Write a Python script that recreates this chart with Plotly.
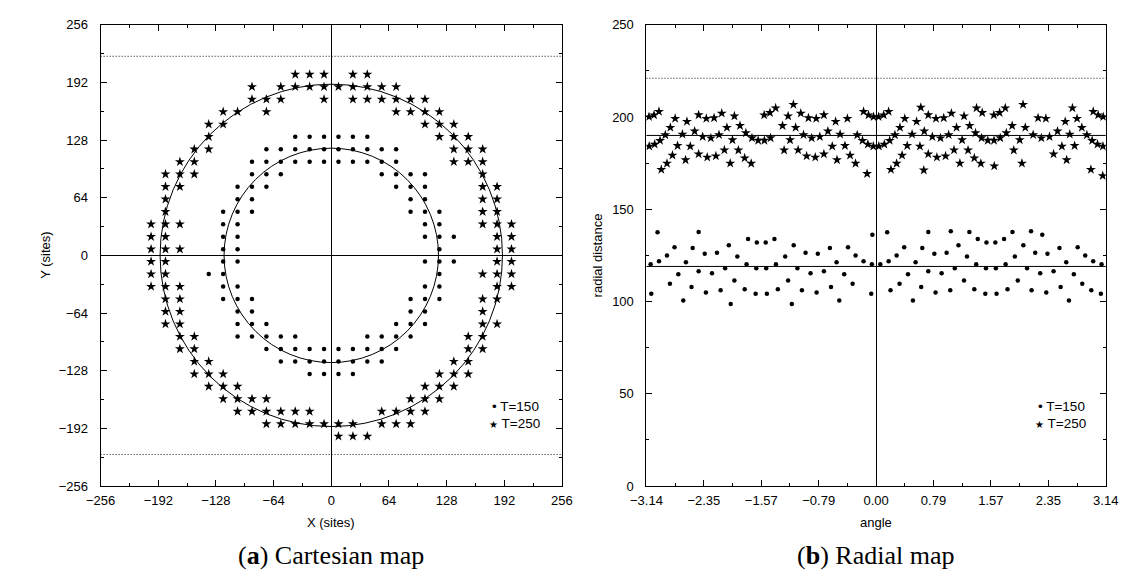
import math
import plotly.graph_objects as go

# ---------------- data (lattice sites) ----------------
# T=150 cluster: row y-coordinate and the x-coordinates of the sites in that row
t150_row_y = [131.7, 117.8, 103.9, 90.1, 76.2, 62.4, 48.5, 34.6, 20.8, 6.9,
              -6.9, -20.8, -34.6, -48.5, -62.4, -76.2, -90.1, -103.9, -117.8, -131.7]
t150_row_x = [
    [-40, -24, -8, 8, 24, 40],
    [-72, -56, -40, -24, -8, 8, 24, 40, 56, 72],
    [-88, -72, -56, -40, -24, -8, 8, 24, 40, 56, 72],
    [-88, -72, -56, 56, 72, 88, 104],
    [-104, -88, -72, 72, 88, 104],
    [-104, -88, 88, 104],
    [-120, -104, -88, 88, 104, 120],
    [-120, -104, 104, 120],
    [-120, -104, 104, 120, 136],
    [-120, -104, 120],
    [-120, -104, 104, 120, 136],
    [-136, -120, 120],
    [-120, -104, 104, 120],
    [-120, -104, -88, 88, 104, 120],
    [-104, -88, 88, 104],
    [-104, -88, -72, 72, 88, 104],
    [-104, -88, -72, -56, -40, 40, 56, 72, 88],
    [-72, -56, -40, -24, -8, 8, 24, 40, 56, 72],
    [-56, -40, -24, -8, 8, 24, 40, 56],
    [-24, -8, 8, 24],
]

# T=250 cluster
t250_row_y = [200.9, 187.1, 173.2, 159.4, 145.5, 131.7, 117.8, 103.9, 90.1, 76.2,
              62.4, 48.5, 34.6, 20.8, 6.9, -6.9, -20.8, -34.6, -48.5, -62.4,
              -76.2, -90.1, -103.9, -117.8, -131.7, -145.5, -159.4, -173.2, -187.1, -200.9]
t250_row_x = [
    [-40, -24, -8, 24, 40],
    [-88, -56, -40, -24, -8, 8, 24, 40, 56, 72],
    [-88, -72, -56, -8, 24, 40, 56, 72, 88, 104],
    [-120, -104, -72, 72, 88, 104, 120],
    [-136, -120, 104, 120, 136],
    [-136, 120, 136, 152],
    [-152, -136, 136, 152, 168],
    [-168, -152, 136, 152, 168],
    [-184, -168, -152, 168],
    [-184, -168, 168, 184],
    [-184, 168, 184],
    [-184, 168, 184],
    [-200, -184, -168, 168, 184, 200],
    [-200, -184, 184, 200],
    [-200, -184, -168, 184, 200],
    [-200, -184, 184, 200],
    [-200, -184, 168, 184, 200],
    [-200, -184, -168, 184, 200],
    [-184, -168, 168, 184],
    [-184, -168, 168],
    [-184, -168, 168, 184],
    [-168, -152, 152, 168],
    [-168, -152, 152, 168],
    [-152, -136, 136, 152],
    [-152, -136, -120, 120, 136, 152],
    [-136, -120, -104, 104, 120, 136],
    [-120, -104, -88, -72, 88, 104, 120],
    [-104, -88, -72, -56, -40, -24, 56, 72, 88, 104],
    [-72, -56, -40, -24, -8, 8, 24, 56, 72, 88],
    [8, 24, 40],
]

# mean radii of the two clusters and the dotted boundary
R150 = 119
R250 = 190
BOUND = 221

xy_ticks = [-256, -192, -128, -64, 0, 64, 128, 192, 256]
ang_ticks = [-3.14, -2.35, -1.57, -0.79, 0.00, 0.79, 1.57, 2.35, 3.14]
rad_ticks = [0, 50, 100, 150, 200, 250]


def flatten(rows_y, rows_x):
    xs, ys = [], []
    for yv, row in zip(rows_y, rows_x):
        for xv in row:
            xs.append(xv)
            ys.append(yv)
    return xs, ys


x150, y150 = flatten(t150_row_y, t150_row_x)
x250, y250 = flatten(t250_row_y, t250_row_x)

a150 = [math.atan2(y, x) for x, y in zip(x150, y150)]
r150 = [math.hypot(x, y) for x, y in zip(x150, y150)]
a250 = [math.atan2(y, x) for x, y in zip(x250, y250)]
r250 = [math.hypot(x, y) for x, y in zip(x250, y250)]


def minus(s):
    return s.replace("-", "\u2212")


W, H = 1139, 585
TICKFONT = dict(family="Liberation Sans, Arial, sans-serif", size=13, color="black")

fig = go.Figure()

dot = dict(symbol="circle", size=4.5, color="black")
star = dict(symbol="star", size=7.5, color="black", line=dict(width=0))

fig.add_trace(go.Scatter(x=x150, y=y150, mode="markers", marker=dot, name="T=150",
                         xaxis="x", yaxis="y", showlegend=False))
fig.add_trace(go.Scatter(x=x250, y=y250, mode="markers", marker=star, name="T=250",
                         xaxis="x", yaxis="y", showlegend=False))
fig.add_trace(go.Scatter(x=a150, y=r150, mode="markers", marker=dot, name="T=150",
                         xaxis="x2", yaxis="y2", showlegend=False))
fig.add_trace(go.Scatter(x=a250, y=r250, mode="markers", marker=star, name="T=250",
                         xaxis="x2", yaxis="y2", showlegend=False))

# pixel geometry of the two plot frames
L1, R1 = 78.6, 552.0
L2, R2 = 638.7, 1110.0
TOP, BOT = 10.0, 483.4
px = lambda v: v / W
py = lambda v: 1 - v / H

common_axis = dict(showline=True, linecolor="black", linewidth=1, mirror="ticks",
                   ticks="inside", ticklen=6, tickcolor="black", tickwidth=1,
                   showgrid=False, tickfont=TICKFONT)

fig.update_layout(
    width=W, height=H,
    margin=dict(l=0, r=0, t=0, b=0),
    paper_bgcolor="white", plot_bgcolor="white",
    showlegend=False,
    xaxis=dict(domain=[px(L1), px(R1)], anchor="y", range=[-256, 256],
               tickvals=xy_ticks, ticktext=[minus(str(v)) for v in xy_ticks],
               minor=dict(ticks="inside", ticklen=3, dtick=32, tick0=0, tickcolor="black",
                          showgrid=False),
               zeroline=True, zerolinecolor="black", zerolinewidth=1,
               ticklabelstandoff=2, **common_axis),
    yaxis=dict(domain=[py(BOT), py(TOP)], anchor="x", range=[-256, 256],
               tickvals=xy_ticks, ticktext=[minus(str(v)) for v in xy_ticks],
               minor=dict(ticks="inside", ticklen=3, dtick=32, tick0=0, tickcolor="black",
                          showgrid=False),
               zeroline=True, zerolinecolor="black", zerolinewidth=1,
               ticklabelstandoff=9, **common_axis),
    xaxis2=dict(domain=[px(L2), px(R2)], anchor="y2", range=[-math.pi, math.pi],
                tickvals=[k * math.pi / 4 for k in range(-4, 5)],
                ticktext=[minus(f"{v:.2f}") for v in ang_ticks],
                minor=dict(ticks="inside", ticklen=3, dtick=math.pi / 8, tick0=0,
                           tickcolor="black", showgrid=False),
                zeroline=True, zerolinecolor="black", zerolinewidth=1,
                ticklabelstandoff=2, **common_axis),
    yaxis2=dict(domain=[py(BOT), py(TOP)], anchor="x2", range=[0, 250],
                tickvals=rad_ticks, ticktext=[str(v) for v in rad_ticks],
                minor=dict(ticks="inside", ticklen=3, dtick=25, tick0=0,
                           tickcolor="black", showgrid=False),
                zeroline=False, ticklabelstandoff=9, **common_axis),
)

line_k = dict(color="black", width=1)
dotted = dict(color="#111111", width=1, dash="1px,2px")
shapes = [
    dict(type="circle", xref="x", yref="y", x0=-R150, y0=-R150, x1=R150, y1=R150, line=line_k),
    dict(type="circle", xref="x", yref="y", x0=-R250, y0=-R250, x1=R250, y1=R250, line=line_k),
    dict(type="line", xref="x domain", yref="y", x0=0, x1=1, y0=BOUND, y1=BOUND, line=dotted),
    dict(type="line", xref="x domain", yref="y", x0=0, x1=1, y0=-BOUND, y1=-BOUND, line=dotted),
    dict(type="line", xref="x2 domain", yref="y2", x0=0, x1=1, y0=BOUND, y1=BOUND, line=dotted),
    dict(type="line", xref="x2 domain", yref="y2", x0=0, x1=1, y0=R250, y1=R250, line=line_k),
    dict(type="line", xref="x2 domain", yref="y2", x0=0, x1=1, y0=R150, y1=R150, line=line_k),
]
fig.update_layout(shapes=shapes)

LABFONT = dict(family="Liberation Sans, Arial, sans-serif", size=13, color="black")
LEGFONT = dict(family="Liberation Sans, Arial, sans-serif", size=13.5, color="black")
CAPFONT = dict(family="Liberation Serif, Times New Roman, serif", size=26, color="black")


def text_at(text, x, y, font, xanchor="center", **kw):
    return dict(text=text, x=px(x), y=py(y), xref="paper", yref="paper",
                xanchor=xanchor, yanchor="middle", showarrow=False, font=font, **kw)


ann = [
    text_at("X (sites)", (L1 + R1) / 2, 521, LABFONT),
    text_at("Y (sites)", 22, (TOP + BOT) / 2, LABFONT, textangle=-90),
    text_at("angle", (L2 + R2) / 2, 521, LABFONT),
    text_at("radial distance", 588, (TOP + BOT) / 2, LABFONT, textangle=-90),
    text_at("(<b>a</b>) Cartesian map", 315, 555, CAPFONT),
    text_at("(<b>b</b>) Radial map", 874, 555, CAPFONT),
]
# legends (one per panel)
for dx in (0, 560):
    ann.append(text_at("\u2022 T=150", 478.5 + dx, 402, LEGFONT, xanchor="left"))
    ann.append(text_at("<span style='font-size:10px'>\u2605</span> T=250", 475 + dx, 419,
                       LEGFONT, xanchor="left"))
fig.update_layout(annotations=ann)

fig.write_html("out.html")
